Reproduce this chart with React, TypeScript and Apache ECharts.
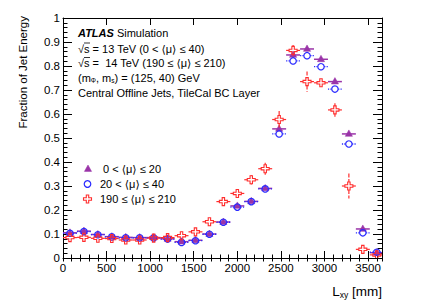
import React, { useEffect, useRef } from 'react';
import * as echarts from 'echarts';

const binCenters = [80, 240, 400, 560, 720, 880, 1040, 1200, 1360, 1520, 1680, 1840, 2000, 2160, 2320, 2480, 2640, 2800, 2960, 3120, 3280, 3440, 3600];
const binWidth = 160;
const mu0to20 = [0.105, 0.112, 0.098, 0.089, 0.086, 0.085, 0.085, 0.080, 0.068, 0.074, 0.100, 0.150, 0.217, 0.236, 0.290, 0.538, 0.846, 0.871, 0.828, 0.735, 0.517, 0.121, 0.022];
const mu20to40 = [0.103, 0.110, 0.097, 0.088, 0.084, 0.084, 0.084, 0.079, 0.065, 0.072, 0.099, 0.149, 0.212, 0.235, 0.288, 0.517, 0.821, 0.843, 0.797, 0.704, 0.475, 0.105, 0.024];
const mu190to210 = [0.085, 0.086, 0.082, 0.081, 0.075, 0.075, 0.083, 0.085, 0.093, 0.109, 0.151, 0.235, 0.269, 0.326, 0.372, 0.577, 0.865, 0.735, 0.730, 0.617, 0.300, 0.036, 0.013];
const err0to20 = [0.004, 0.004, 0.004, 0.004, 0.004, 0.004, 0.004, 0.004, 0.004, 0.005, 0.005, 0.006, 0.007, 0.008, 0.009, 0.012, 0.012, 0.012, 0.012, 0.012, 0.012, 0.008, 0.005];
const err20to40 = [0.004, 0.004, 0.004, 0.004, 0.004, 0.004, 0.004, 0.004, 0.004, 0.005, 0.005, 0.006, 0.007, 0.008, 0.009, 0.012, 0.012, 0.012, 0.012, 0.012, 0.012, 0.008, 0.005];
const err190to210 = [0.005, 0.005, 0.005, 0.005, 0.005, 0.005, 0.005, 0.005, 0.006, 0.008, 0.010, 0.012, 0.013, 0.020, 0.025, 0.035, 0.022, 0.042, 0.012, 0.028, 0.052, 0.015, 0.010];
const legendLabels = [' 0 < ⟨μ⟩ ≤ 20', '20 < ⟨μ⟩ ≤ 40', '190 ≤ ⟨μ⟩ ≤ 210'];

const PURPLE = '#9a34a8';
const BLUE = '#2b2bff';
const RED = '#ff2d2d';
const FONT = '"Liberation Sans", "DejaVu Sans", Arial, sans-serif';

function crossPoints(cx: number, cy: number, a: number, b: number) {
  return [
    [cx - b, cy - a], [cx + b, cy - a], [cx + b, cy - b], [cx + a, cy - b], [cx + a, cy + b], [cx + b, cy + b],
    [cx + b, cy + a], [cx - b, cy + a], [cx - b, cy + b], [cx - a, cy + b], [cx - a, cy - b], [cx - b, cy - b],
  ];
}
function triPoints(cx: number, cy: number) {
  return [[cx, cy - 4], [cx - 3.6, cy + 2.4], [cx + 3.6, cy + 2.4]];
}

function marker(kind: string, cx: number, cy: number) {
  if (kind === 'tri') return { type: 'polygon', shape: { points: triPoints(cx, cy) }, style: { fill: PURPLE, stroke: PURPLE, lineWidth: 0.5 } };
  if (kind === 'circle') return { type: 'circle', shape: { cx, cy, r: 3.2 }, style: { fill: 'none', stroke: BLUE, lineWidth: 1.2 } };
  return { type: 'polygon', shape: { points: crossPoints(cx, cy, 4, 1.2) }, style: { fill: 'none', stroke: RED, lineWidth: 1.1 } };
}

function makeSeries(name: string, values: number[], errors: number[], kind: string, color: string, dash: number[] | null, lw: number) {
  return {
    type: 'custom',
    name,
    clip: true,
    data: binCenters.map((x, i) => [x, values[i], errors[i]]),
    renderItem: (params: any, api: any) => {
      const x = api.value(0), y = api.value(1), e = api.value(2);
      const [cx, cy] = api.coord([x, y]);
      const xl = api.coord([x - binWidth / 2, y])[0];
      const xr = api.coord([x + binWidth / 2, y])[0];
      const yt = api.coord([x, y + e])[1];
      const yb = api.coord([x, y - e])[1];
      const r = kind === 'circle' ? 3.2 : kind === 'tri' ? 0 : 4;
      const ls: any = { stroke: color, lineWidth: lw };
      if (dash) ls.lineDash = dash;
      const children: any[] = [];
      children.push({ type: 'line', shape: { x1: xl, y1: cy, x2: cx - r, y2: cy }, style: ls });
      children.push({ type: 'line', shape: { x1: cx + r, y1: cy, x2: xr, y2: cy }, style: ls });
      const rv = kind === 'tri' ? 4 : r;
      if (cy - yt > rv) {
        children.push({ type: 'line', shape: { x1: cx, y1: yt, x2: cx, y2: cy - rv }, style: ls });
        children.push({ type: 'line', shape: { x1: cx, y1: cy + rv, x2: cx, y2: yb }, style: ls });
      }
      children.push(marker(kind, cx, cy));
      return { type: 'group', children };
    },
    z: 3,
  };
}

export default function App() {
  const ref = useRef<HTMLDivElement>(null);
  useEffect(() => {
    if (!ref.current) return;
    const chart = echarts.init(ref.current, undefined, { renderer: 'svg' });
    const axisLine = { show: true, onZero: false, lineStyle: { color: '#000', width: 1 } };
    const xBase = { type: 'value', min: 0, max: 3660, splitLine: { show: false } };
    const yBase = { type: 'value', min: 0, max: 1, interval: 0.1, splitLine: { show: false } };
    const legendY = [169, 184, 199];
    const option: any = {
      animation: false,
      textStyle: { fontFamily: FONT },
      grid: { left: 63, right: 43, top: 18, bottom: 47 },
      xAxis: [
        { ...xBase, position: 'bottom', interval: 500, axisLine, axisTick: { show: true, inside: true, length: 7, lineStyle: { color: '#000' } },
          axisLabel: { show: true, margin: 4, fontSize: 11.5, color: '#000', fontFamily: FONT, showMaxLabel: false, formatter: (v: number) => String(Math.round(v)) } },
        { ...xBase, position: 'bottom', interval: 100, axisLine: { show: false }, axisTick: { show: true, inside: true, length: 3.5, lineStyle: { color: '#000' } }, axisLabel: { show: false } },
        { ...xBase, position: 'top', interval: 500, axisLine, axisTick: { show: true, inside: true, length: 7, lineStyle: { color: '#000' } }, axisLabel: { show: false } },
        { ...xBase, position: 'top', interval: 100, axisLine: { show: false }, axisTick: { show: true, inside: true, length: 3.5, lineStyle: { color: '#000' } }, axisLabel: { show: false } },
      ],
      yAxis: [
        { ...yBase, position: 'left', axisLine, axisTick: { show: true, inside: true, length: 9, lineStyle: { color: '#000' } },
          minorTick: { show: true, splitNumber: 5, length: 4.5, lineStyle: { color: '#000' } },
          axisLabel: { show: true, margin: 3, fontSize: 11.5, color: '#000', fontFamily: FONT, formatter: (v: number) => String(Math.round(v * 10) / 10) } },
        { ...yBase, position: 'right', axisLine, axisTick: { show: true, inside: true, length: 9, lineStyle: { color: '#000' } },
          minorTick: { show: true, splitNumber: 5, length: 4.5, lineStyle: { color: '#000' } }, axisLabel: { show: false } },
      ],
      series: [
        makeSeries('0-20', mu0to20, err0to20, 'tri', PURPLE, null, 1.5),
        makeSeries('20-40', mu20to40, err20to40, 'circle', BLUE, [1.2, 1.2], 1.3),
        makeSeries('190-210', mu190to210, err190to210, 'cross', RED, [4, 1.5], 1.2),
      ],
      graphic: [
        { type: 'text', x: 23, y: 16, rotation: Math.PI / 2, style: { text: 'Fraction of Jet Energy', fontSize: 11.5, fontFamily: FONT, fill: '#000', textAlign: 'right', textVerticalAlign: 'middle' } },
        { type: 'text', x: 382, y: 291, style: { text: '{n|L}{s|xy}{n| [mm]}', fontFamily: FONT, fill: '#000', textAlign: 'right', textVerticalAlign: 'middle',
          rich: { n: { fontSize: 13.5, lineHeight: 16, fontFamily: FONT, verticalAlign: 'middle' }, s: { fontSize: 8.5, lineHeight: 8, fontFamily: FONT, verticalAlign: 'bottom' } } } },
        { type: 'text', x: 78, y: 33, style: { text: '{b|ATLAS} Simulation', fontSize: 11, fontFamily: FONT, fill: '#000', textVerticalAlign: 'middle',
          rich: { b: { fontSize: 11, fontWeight: 'bold', fontStyle: 'italic', fontFamily: FONT } } } },
        { type: 'text', x: 78, y: 48.5, style: { text: '√s = 13 TeV (0 < ⟨μ⟩ ≤ 40)', fontSize: 11, fontFamily: FONT, fill: '#000', textVerticalAlign: 'middle' } },
        { type: 'line', shape: { x1: 84, y1: 43, x2: 90, y2: 43 }, style: { stroke: '#000', lineWidth: 0.8 } },
        { type: 'text', x: 78, y: 63, style: { text: '√s =  14 TeV (190 ≤ ⟨μ⟩ ≤ 210)', fontSize: 11, fontFamily: FONT, fill: '#000', textVerticalAlign: 'middle' } },
        { type: 'line', shape: { x1: 84, y1: 57.5, x2: 90, y2: 57.5 }, style: { stroke: '#000', lineWidth: 0.8 } },
        { type: 'text', x: 78, y: 78, style: { text: '(m{s|Φ}, m{s|s}) = (125, 40) GeV', fontSize: 11, fontFamily: FONT, fill: '#000', textVerticalAlign: 'middle',
          rich: { s: { fontSize: 6.5, lineHeight: 7, fontFamily: FONT, verticalAlign: 'bottom' } } } },
        { type: 'text', x: 78, y: 92.5, style: { text: 'Central Offline Jets, TileCal BC Layer', fontSize: 11, fontFamily: FONT, fill: '#000', textVerticalAlign: 'middle' } },
        { type: 'polygon', shape: { points: triPoints(88, legendY[0]) }, style: { fill: PURPLE, stroke: PURPLE, lineWidth: 0.5 } },
        { type: 'circle', shape: { cx: 87.5, cy: legendY[1], r: 3.3 }, style: { fill: 'none', stroke: BLUE, lineWidth: 1.2 } },
        { type: 'polygon', shape: { points: crossPoints(87.5, legendY[2], 4, 1.2) }, style: { fill: 'none', stroke: RED, lineWidth: 1.1 } },
        ...legendLabels.map((t, i) => ({ type: 'text', x: 100, y: legendY[i], style: { text: t, fontSize: 11, fontFamily: FONT, fill: '#000', textVerticalAlign: 'middle' } })),
      ],
    };
    chart.setOption(option);
    return () => chart.dispose();
  }, []);
  return <div ref={ref} style={{ position: 'fixed', left: 0, top: 0, width: 425, height: 305, background: '#fff' }} />;
}
